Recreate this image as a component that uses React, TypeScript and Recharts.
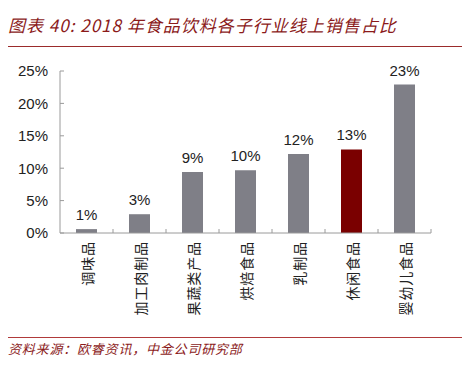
import React from 'react';
import { BarChart, Bar, XAxis, YAxis, Cell, LabelList } from 'recharts';

const categories = ['调味品', '加工肉制品', '果蔬类产品', '烘焙食品', '乳制品', '休闲食品', '婴幼儿食品'];
const shares = [0.6, 2.9, 9.4, 9.7, 12.2, 12.9, 22.9];
const highlight = [false, false, false, false, false, true, false];
const yTicks = [0, 5, 10, 15, 20, 25];

const title = '图表 40: 2018 年食品饮料各子行业线上销售占比';
const source = '资料来源：欧睿资讯，中金公司研究部';

const data = categories.map((name, i) => ({ name, value: shares[i], hi: highlight[i] }));

const GRAY = '#7f7f87';
const RED = '#7a0000';
const AXIS = '#9a9a9a';
const DARKRED = '#8b1a1a';

const CatTick = (props: any) => {
  const { x, y, payload } = props;
  const half = payload && payload.offset ? payload.offset : 0;
  return (
    <g>
      <line x1={x + half} x2={x + half} y1={y} y2={y - 4} stroke={AXIS} strokeWidth={1} />
      <text
        transform={`translate(${x},${y + 8}) rotate(-90)`}
        textAnchor="end"
        dominantBaseline="central"
        fontSize={14}
        letterSpacing={0.9}
        fill="#222"
        fontFamily="'Noto Sans CJK SC', sans-serif"
      >
        {payload.value}
      </text>
    </g>
  );
};

export default function App() {
  return (
    <div style={{ position: 'relative', width: 474, height: 366, margin: -8, background: '#fff', overflow: 'hidden' }}>
      <div
        style={{
          position: 'absolute',
          left: 8,
          top: 13,
          fontSize: 17,
          lineHeight: '24px',
          letterSpacing: 1,
          fontStyle: 'italic',
          color: DARKRED,
          fontFamily: "'Noto Sans CJK SC', sans-serif",
          whiteSpace: 'nowrap',
        }}
      >
        {title}
      </div>
      <div style={{ position: 'absolute', left: 5, top: 46, width: 457, height: 1, background: '#9b2b2b' }} />
      <div style={{ position: 'absolute', left: 0, top: 0 }}>
        <BarChart
          width={474}
          height={366}
          data={data}
          margin={{ top: 71, right: 43, bottom: 33, left: 0 }}
          barSize={21}
        >
          <YAxis
            width={60}
            domain={[0, 25]}
            ticks={yTicks}
            interval={0}
            tickFormatter={(v: number) => `${v}%`}
            axisLine={{ stroke: AXIS }}
            tickLine={{ stroke: AXIS }}
            tickSize={-4}
            tickMargin={16}
            tick={{ fill: '#222', fontSize: 15, fontFamily: "'Liberation Sans', Arial, sans-serif" }}
          />
          <XAxis
            dataKey="name"
            height={100}
            interval={0}
            axisLine={{ stroke: AXIS }}
            tickLine={false}
            tickSize={0}
            tickMargin={0}
            tick={<CatTick />}
          />
          <Bar dataKey="value" isAnimationActive={false}>
            {data.map((d, i) => (
              <Cell key={i} fill={d.hi ? RED : GRAY} />
            ))}
            <LabelList
              dataKey="value"
              position="top"
              offset={9}
              formatter={(v: any) => `${Math.round(Number(v))}%`}
              style={{ fill: '#222', fontSize: 15, fontFamily: "'Liberation Sans', Arial, sans-serif" }}
            />
          </Bar>
        </BarChart>
      </div>
      <div style={{ position: 'absolute', left: 5, top: 337, width: 457, height: 1, background: '#b03a3a' }} />
      <div
        style={{
          position: 'absolute',
          left: 8,
          top: 340,
          fontSize: 13,
          lineHeight: '18px',
          letterSpacing: 0.8,
          fontStyle: 'italic',
          color: DARKRED,
          fontFamily: "'Noto Sans CJK SC', sans-serif",
          whiteSpace: 'nowrap',
        }}
      >
        {source}
      </div>
    </div>
  );
}
